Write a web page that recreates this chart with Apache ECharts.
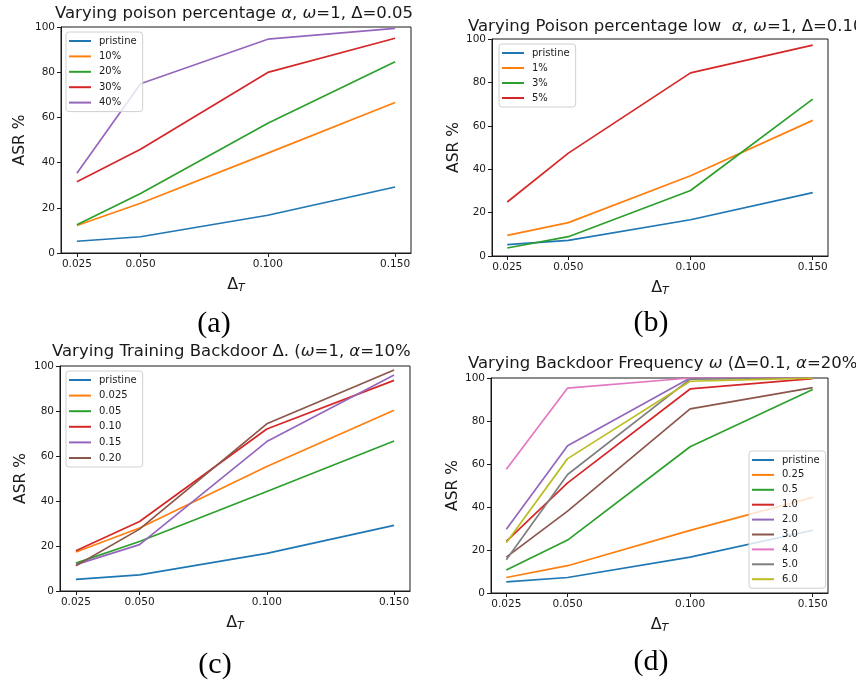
<!DOCTYPE html>
<html>
<head>
<meta charset="utf-8">
<script src="https://cdn.jsdelivr.net/npm/echarts@6/dist/echarts.min.js"></script>
<style>
  html, body { margin: 0; padding: 0; background: #fff; }
  #chart { width: 856px; height: 686px; }
</style>
</head>
<body>
<div id="chart"></div>
<script>
// x positions (Delta_T) shared by every panel
const deltas = [0.025, 0.05, 0.1, 0.15]
const deltaLabels = ['0.025', '0.050', '0.100', '0.150']
const yTicks = [0, 20, 40, 60, 80, 100]

// (a) poison percentage
const pristine = [5.2, 7.2, 16.7, 29.2]
const pct10 = [12.2, 22.0, 44.2, 66.6]
const pct20 = [12.5, 26.3, 57.4, 84.6]
const pct30 = [31.5, 45.9, 79.9, 95.0]
const pct40 = [35.3, 74.9, 94.6, 99.4]

// (b) low poison percentage
const low1 = [9.5, 15.4, 37.0, 62.5]
const low3 = [3.7, 8.9, 30.2, 72.3]
const low5 = [24.9, 47.4, 84.4, 97.2]

// (c) training backdoor delta
const train025 = [17.3, 28.0, 55.3, 80.3]
const train05 = [12.4, 22.0, 44.2, 66.7]
const train10 = [17.9, 30.9, 72.0, 93.6]
const train15 = [11.7, 20.6, 66.4, 96.0]
const train20 = [11.2, 27.5, 74.3, 98.2]

// (d) backdoor frequency
const freq025 = [7.2, 12.7, 29.1, 44.5]
const freq05 = [10.7, 24.6, 68.0, 94.7]
const freq1 = [24.0, 51.2, 94.9, 99.7]
const freq2 = [29.6, 68.5, 100, 100]
const freq3 = [16.7, 38.1, 85.6, 95.5]
const freq4 = [57.6, 95.3, 100, 100]
const freq5 = [15.5, 55.1, 99.5, 100]
const freq6 = [23.4, 62.5, 98.5, 99.9]

const tab10 = ['#1f77b4', '#ff7f0e', '#2ca02c', '#d62728', '#9467bd',
  '#8c564b', '#e377c2', '#7f7f7f', '#bcbd22']

const panels = [
  {
    grid: { left: 61, top: 27, width: 350, height: 226 },
    nameGap: 33,
    names: ['pristine', '10%', '20%', '30%', '40%'],
    values: [pristine, pct10, pct20, pct30, pct40],
    legend: { left: 66, top: 32, itemGap: 3.4 }
  },
  {
    grid: { left: 492, top: 39, width: 336, height: 217 },
    nameGap: 29,
    names: ['pristine', '1%', '3%', '5%'],
    values: [pristine, low1, low3, low5],
    legend: { left: 499, top: 44, itemGap: 3 }
  },
  {
    grid: { left: 60, top: 366, width: 350, height: 225 },
    nameGap: 31,
    names: ['pristine', '0.025', '0.05', '0.10', '0.15', '0.20'],
    values: [pristine, train025, train05, train10, train15, train20],
    legend: { left: 66, top: 371, itemGap: 3.6 }
  },
  {
    grid: { left: 491, top: 378, width: 337, height: 215 },
    nameGap: 28,
    names: ['pristine', '0.25', '0.5', '1.0', '2.0', '3.0', '4.0', '5.0', '6.0'],
    values: [pristine, freq025, freq05, freq1, freq2, freq3, freq4, freq5, freq6],
    legend: { left: 749, top: 451, itemGap: 2.9 }
  }
]

const titleRich = {
  n: { fontFamily: 'DejaVu Sans', fontSize: 16.5, fontWeight: 'normal', color: '#1a1a1a' },
  i: { fontFamily: 'DejaVu Sans', fontSize: 16.5, fontWeight: 'normal', fontStyle: 'italic', color: '#1a1a1a' }
}
const titles = [
  { left: 55, top: 5, text: '{n|Varying poison percentage }{i|α}{n|, }{i|ω}{n|=1, Δ=0.05}' },
  { left: 468, top: 18, text: '{n|Varying Poison percentage low  }{i|α}{n|, }{i|ω}{n|=1, Δ=0.10}' },
  { left: 52, top: 343, text: '{n|Varying Training Backdoor Δ. (}{i|ω}{n|=1, }{i|α}{n|=10%}' },
  { left: 468, top: 355, text: '{n|Varying Backdoor Frequency }{i|ω}{n| (Δ=0.1, }{i|α}{n|=20%)}' }
]

const captions = [
  { x: 214, y: 324, text: '(a)' },
  { x: 651, y: 323, text: '(b)' },
  { x: 215, y: 665, text: '(c)' },
  { x: 651, y: 662, text: '(d)' }
]

const chart = echarts.init(document.getElementById('chart'), null, { renderer: 'canvas' })

const option = {
  backgroundColor: '#fff',
  animation: false,
  title: titles.map(t => ({
    left: t.left,
    top: t.top,
    padding: 0,
    text: t.text,
    textStyle: { fontWeight: 'normal', rich: titleRich }
  })),
  grid: panels.map(p => Object.assign({
    show: true,
    borderColor: '#1a1a1a',
    borderWidth: 1,
    backgroundColor: 'transparent'
  }, p.grid)),
  xAxis: panels.map((p, i) => ({
    type: 'value',
    gridIndex: i,
    min: 0.01875,
    max: 0.15625,
    name: '{d|Δ}{s|T}',
    nameLocation: 'middle',
    nameGap: 22,
    nameTextStyle: {
      rich: {
        d: { fontFamily: 'DejaVu Sans', fontSize: 16, color: '#1a1a1a' },
        s: { fontFamily: 'DejaVu Sans', fontSize: 11, fontStyle: 'italic', color: '#1a1a1a', padding: [8, 0, 0, 0] }
      }
    },
    axisLine: { show: true, onZero: false, lineStyle: { color: '#1a1a1a', width: 1 } },
    axisTick: { show: true, length: 4, customValues: deltas, lineStyle: { color: '#1a1a1a' } },
    axisLabel: {
      customValues: deltas,
      formatter: v => deltaLabels[deltas.indexOf(+v.toFixed(3))] || v.toFixed(3),
      margin: 6,
      fontFamily: 'DejaVu Sans',
      fontSize: 10.5,
      color: '#1a1a1a'
    },
    splitLine: { show: false }
  })),
  yAxis: panels.map((p, i) => ({
    type: 'value',
    gridIndex: i,
    min: yTicks[0],
    max: yTicks[yTicks.length - 1],
    interval: 20,
    name: 'ASR %',
    nameLocation: 'middle',
    nameGap: p.nameGap,
    nameTextStyle: { fontFamily: 'DejaVu Sans', fontSize: 15.5, color: '#1a1a1a' },
    axisLine: { show: true, lineStyle: { color: '#1a1a1a', width: 1 } },
    axisTick: { show: true, length: 4, lineStyle: { color: '#1a1a1a' } },
    axisLabel: { margin: 6, fontFamily: 'DejaVu Sans', fontSize: 10.5, color: '#1a1a1a' },
    splitLine: { show: false }
  })),
  legend: panels.map(p => ({
    orient: 'vertical',
    left: p.legend.left,
    top: p.legend.top,
    data: p.names,
    icon: 'rect',
    itemWidth: 22,
    itemHeight: 2,
    itemGap: p.legend.itemGap,
    padding: [3, 6, 3, 3],
    backgroundColor: 'rgba(255,255,255,0.8)',
    borderColor: '#d0d0d0',
    borderWidth: 1,
    borderRadius: 3,
    selectedMode: false,
    textStyle: {
      fontFamily: 'DejaVu Sans',
      fontSize: 10,
      lineHeight: 12,
      color: '#1a1a1a',
      padding: [0, 0, 0, 3]
    }
  })),
  graphic: captions.map(c => ({
    type: 'text',
    x: c.x,
    y: c.y,
    style: {
      text: c.text,
      font: '30px "Liberation Serif"',
      fill: '#000',
      textAlign: 'center',
      textVerticalAlign: 'middle'
    }
  })),
  series: []
}

panels.forEach((p, i) => {
  p.values.forEach((vals, k) => {
    option.series.push({
      type: 'line',
      name: p.names[k],
      xAxisIndex: i,
      yAxisIndex: i,
      symbol: 'none',
      color: tab10[k],
      lineStyle: { width: 1.7 },
      data: vals.map((v, j) => [deltas[j], v])
    })
  })
})

chart.setOption(option)
</script>
</body>
</html>
